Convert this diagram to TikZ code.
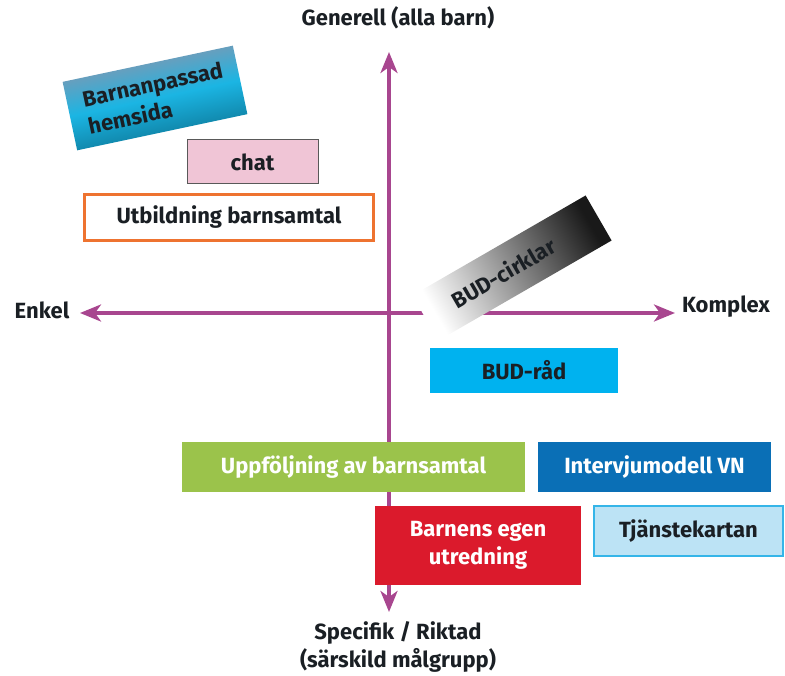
\documentclass[tikz,border=0pt]{standalone}
\usepackage{fontspec}
\setmainfont{Fira Sans}
\usetikzlibrary{arrows.meta}
\definecolor{axis}{HTML}{A8468F}
\definecolor{chatfill}{HTML}{F0C5D6}
\definecolor{orangeb}{HTML}{EE7330}
\definecolor{budrad}{HTML}{00B2EF}
\definecolor{greenb}{HTML}{9BC34B}
\definecolor{blueb}{HTML}{0A6FB6}
\definecolor{redb}{HTML}{DB1A2C}
\definecolor{tjfill}{HTML}{BCE3F5}
\definecolor{tjline}{HTML}{35B5E8}
\definecolor{hcyan}{HTML}{1BB5E3}
\definecolor{hdark}{HTML}{0A6C8A}
\definecolor{htop}{HTML}{9A90A5}
\definecolor{txt}{HTML}{1A1F24}
\tikzset{
  lbl/.style={font=\bfseries\fontsize{22}{28}\selectfont, text=txt, inner sep=0pt},
  box/.style={rectangle, inner sep=0pt, font=\bfseries\fontsize{22}{28}\selectfont, align=center},
  axisline/.style={draw=axis, line width=3.5pt, {Stealth[length=21pt,width=17pt,inset=6pt]}-{Stealth[length=21pt,width=17pt,inset=6pt]}}
}
\begin{document}
\begin{tikzpicture}[x=1pt,y=-1pt]
\useasboundingbox (0,0) rectangle (785,676);
% axes
\coordinate (top) at (389,52);
\coordinate (bot) at (389,612);
\coordinate (lft) at (80,313);
\coordinate (rgt) at (675,313);
\draw[axisline] (bot) -- (top);
\draw[axisline] (lft) -- (rgt);
% axis labels
\node[lbl] (gen) at (398,18) {Generell (alla barn)};
\node[lbl] (enk) at (42,310) {Enkel};
\node[lbl] (kom) at (726,307) {Komplex};
\node[lbl, align=center] (spec) at (398,647) {Specifik / Riktad\\(särskild målgrupp)};
% boxes
\node[box, rotate=12, minimum width=174pt, minimum height=70pt,
      top color=htop, bottom color=hdark, middle color=hcyan, shading angle=12,
      text=txt, align=left, text width=142pt] (hem) at (155,98) {Barnanpassad\\hemsida};
\node[box, minimum width=131pt, minimum height=44pt, fill=chatfill, draw=black!65, line width=1pt, text=txt] (chat) at (252.5,162) {chat};
\node[box, minimum width=289pt, minimum height=46pt, fill=white, draw=orangeb, line width=3pt, text=txt] (utb) at (229,217.5) {Utbildning barnsamtal};
\node[box, rotate=30, minimum width=200pt, minimum height=52pt,
      left color=white, right color=black!90, shading angle=120, text=txt] (cirk) at (512,268) {\hspace*{-20pt}BUD-cirklar};
\node[box, minimum width=188pt, minimum height=45pt, fill=budrad, text=txt] (rad) at (524,370.5) {BUD-råd};
\node[box, minimum width=343pt, minimum height=50pt, fill=greenb, text=white] (upp) at (353.5,467) {Uppföljning av barnsamtal};
\node[box, minimum width=233pt, minimum height=50pt, fill=blueb, text=white] (int) at (654.5,467) {Intervjumodell VN};
\node[box, minimum width=206pt, minimum height=79pt, fill=redb, text=white] (egen) at (478,545.5) {Barnens egen\\utredning};
\node[box, minimum width=189pt, minimum height=50pt, fill=tjfill, draw=tjline, line width=2pt, text=txt] (tj) at (688.5,531) {Tjänstekartan};
\end{tikzpicture}
\end{document}
